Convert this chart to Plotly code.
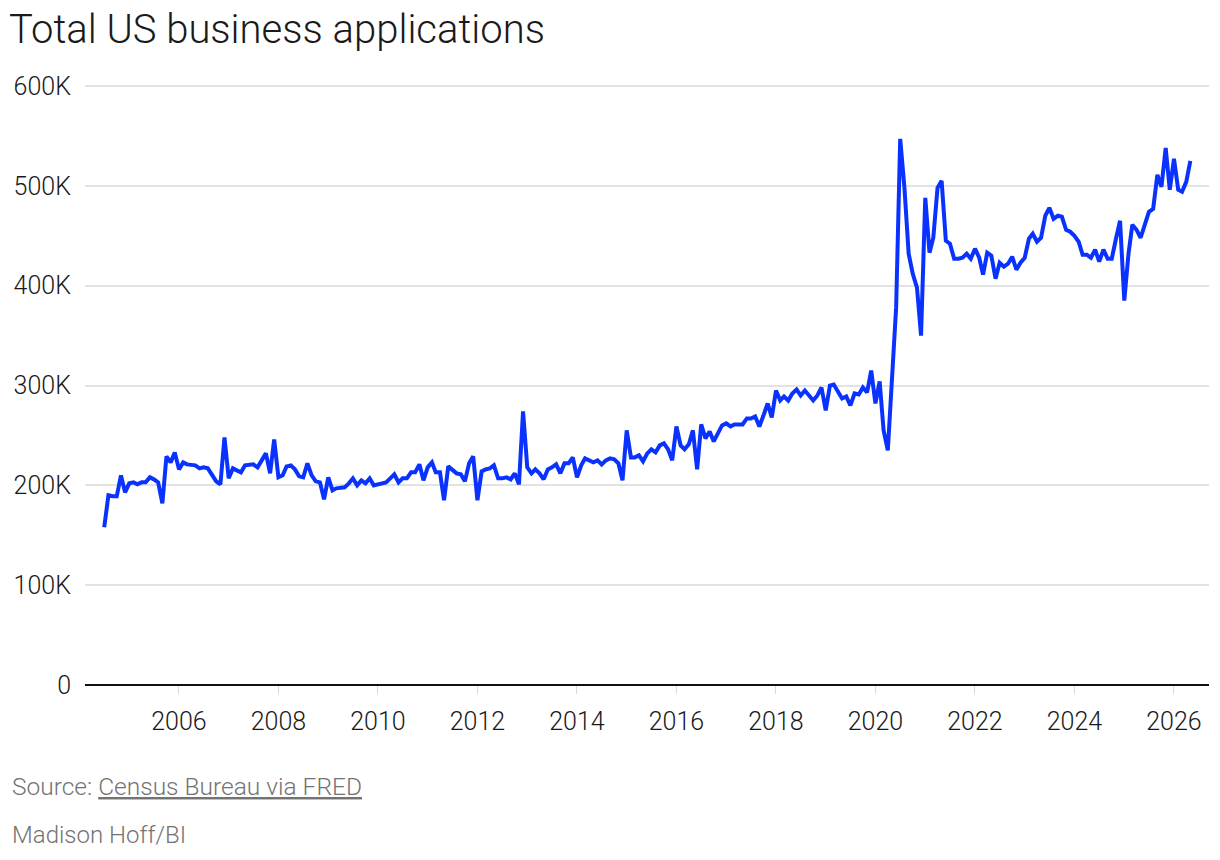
import pandas as pd
import plotly.graph_objects as go

# Monthly total US business applications (thousands), Jul 2004 - May 2026
start_month = "2004-07-01"
applications_k = [
    # 2004 (Jul-Dec)
    158, 190, 189, 189, 210, 193,
    # 2005
    202, 203, 201, 203, 203, 208, 206, 203, 182, 229, 223, 233,
    # 2006
    216, 223, 221, 221, 220, 217, 218, 217, 210, 204, 201, 248,
    # 2007
    207, 217, 215, 213, 220, 221, 221, 218, 225, 232, 212, 246,
    # 2008
    208, 210, 219, 220, 216, 209, 208, 222, 210, 204, 203, 186,
    # 2009
    208, 195, 197, 198, 198, 202, 207, 200, 205, 202, 207, 200,
    # 2010
    201, 202, 203, 207, 211, 203, 207, 207, 213, 213, 221, 205,
    # 2011
    218, 223, 213, 213, 185, 219, 216, 212, 211, 204, 222, 229,
    # 2012
    185, 214, 216, 217, 220, 207, 207, 208, 206, 212, 201, 274,
    # 2013
    218, 212, 216, 212, 206, 216, 218, 221, 212, 222, 222, 228,
    # 2014
    208, 220, 227, 225, 223, 225, 221, 225, 227, 226, 222, 205,
    # 2015
    255, 228, 228, 230, 224, 232, 236, 233, 240, 242, 236, 225,
    # 2016
    259, 240, 236, 241, 255, 216, 261, 247, 254, 244, 252, 260,
    # 2017
    262, 259, 261, 261, 261, 267, 267, 269, 259, 270, 282, 268,
    # 2018
    295, 285, 289, 285, 292, 296, 290, 295, 290, 285, 290, 298,
    # 2019
    275, 300, 301, 293, 287, 289, 280, 292, 291, 298, 293, 315,
    # 2020
    282, 304, 255, 235, 300, 378, 547, 498, 432, 412, 398, 350,
    # 2021
    488, 433, 448, 498, 505, 445, 442, 427, 427, 428, 432, 427,
    # 2022
    437, 428, 411, 433, 430, 407, 423, 419, 422, 429, 416, 423,
    # 2023
    428, 447, 452, 444, 448, 470, 478, 467, 470, 469, 456, 454,
    # 2024
    450, 444, 431, 431, 428, 436, 424, 436, 427, 427, 447, 465,
    # 2025
    385, 432, 461, 456, 448, 462, 474, 477, 511, 499, 538, 496,
    # 2026 (Jan-May)
    527, 496, 494, 504, 525,
]
months = pd.date_range(start=start_month, periods=len(applications_k), freq="MS")
values = [v * 1000 for v in applications_k]

y_tick_values = [0, 100000, 200000, 300000, 400000, 500000, 600000]
y_tick_labels = ["0", "100K", "200K", "300K", "400K", "500K", "600K"]

title_text = "Total US business applications"
source_text = "Source: <u>Census Bureau via FRED</u>"
credit_text = "Madison Hoff/BI"

FONT = "Roboto"
TEXT = "#1a1a1a"
GRAY = "#737373"

fig = go.Figure()
fig.add_trace(go.Scatter(
    x=months, y=values, mode="lines",
    line=dict(color="#0a32ff", width=4),
    hoverinfo="x+y", showlegend=False,
))

fig.update_layout(
    width=1220, height=860,
    margin=dict(l=85, r=11, t=83, b=175),
    paper_bgcolor="white", plot_bgcolor="white",
    font=dict(family=FONT, color=TEXT, size=24, weight=300),
    title=dict(
        text=title_text, font=dict(family=FONT, size=40, color=TEXT, weight=300),
        xref="container", x=9 / 1220, xanchor="left",
        yref="container", y=1 - 29 / 860, yanchor="middle",
    ),
    xaxis=dict(
        type="date",
        range=["2004-02-11", "2026-09-15"],
        tick0="2006-01-01", dtick="M24", tickformat="%Y",
        showgrid=False, zeroline=False,
        showline=False,
        ticks="outside", ticklen=8, tickwidth=1, tickcolor="#d9d9d9",
        tickfont=dict(family=FONT, size=25, color=TEXT, weight=300),
        ticklabelstandoff=6,
    ),
    yaxis=dict(
        range=[0, 603000],
        tickvals=y_tick_values, ticktext=y_tick_labels,
        showgrid=True, gridcolor="#e3e3e3", gridwidth=1.5,
        zeroline=True, zerolinecolor="#111111", zerolinewidth=2,
        showline=False, ticks="",
        tickfont=dict(family=FONT, size=25, color=TEXT, weight=300),
        ticklabelstandoff=13,
    ),
    annotations=[
        dict(text=source_text, xref="paper", yref="paper",
             x=(10 - 85) / 1124, y=(685 - 786) / 602, xanchor="left", yanchor="middle",
             showarrow=False, font=dict(family=FONT, size=24.5, color=GRAY, weight=300)),
        dict(text=credit_text, xref="paper", yref="paper",
             x=(10 - 85) / 1124, y=(685 - 835) / 602, xanchor="left", yanchor="middle",
             showarrow=False, font=dict(family=FONT, size=24, color=GRAY, weight=300)),
    ],
)

fig.write_html("out.html")
